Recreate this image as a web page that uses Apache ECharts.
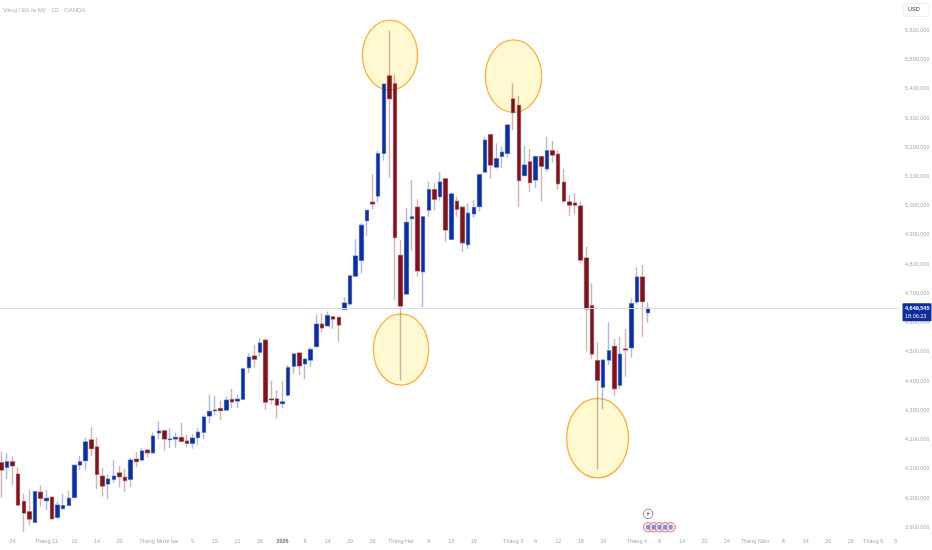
<!DOCTYPE html>
<html><head><meta charset="utf-8">
<style>html,body{margin:0;padding:0;background:#fff}#c{width:932px;height:550px}</style>
<script src="https://cdn.jsdelivr.net/npm/echarts@6/dist/echarts.min.js"></script>
</head><body><div id="c"></div>
<script>
const opens=[4121,4105,4124,4082,3988,3953,3917,4020,3991,4003,3934,3964,3975,4002,4113,4128,4199,4175,4075,4048,4064,4086,4071,4064,4133,4130,4164,4155,4223,4230,4200,4202,4207,4195,4187,4207,4225,4281,4299,4306,4301,4337,4332,4338,4446,4486,4499,4540,4339,4339,4323,4352,4451,4496,4459,4472,4518,4595,4589,4620,4618,4646,4664,4759,4813,4949,5012,5033,5179,5444,5417,4830,4698,4956,4995,4774,4985,5055,5031,5092,4885,5015,4995,4867,4972,4997,5115,5243,5132,5169,5179,5365,5343,5103,5150,5088,5168,5126,5188,5176,5080,5013,5009,4999,4821,4658,4470,4379,4472,4519,4386,4510,4514,4671,4756,4634];
const closes=[4096,4124,4110,3976,3949,3928,4022,3999,3999,3929,3976,3974,3999,4112,4124,4192,4169,4081,4041,4065,4075,4073,4060,4130,4125,4161,4155,4212,4229,4202,4202,4207,4194,4187,4205,4225,4277,4296,4301,4299,4335,4329,4338,4442,4482,4475,4530,4328,4336,4318,4329,4446,4493,4452,4475,4508,4595,4582,4624,4612,4592,4667,4760,4828,4933,4984,5006,5178,5416,5366,4891,4657,4943,4962,4777,4962,5055,5022,5081,4917,5040,4988,4873,4974,4994,5106,5224,5139,5161,5183,5276,5319,5086,5139,5079,5168,5135,5188,5173,5075,5016,5002,5002,4814,4647,4493,4403,4472,4504,4374,4492,4507,4665,4756,4672,4649.545];
const lows=[4002,4065,4043,3973,3885,3907,3916,3971,3959,3928,3928,3964,3973,4000,4096,4096,4142,4031,4005,3996,4051,4037,4020,4039,4105,4130,4140,4153,4203,4162,4170,4172,4192,4172,4169,4181,4202,4256,4284,4267,4299,4307,4307,4338,4429,4446,4484,4301,4322,4273,4307,4347,4424,4421,4406,4449,4518,4567,4589,4578,4534,4646,4658,4757,4769,4897,4988,5012,5154,5096,4678,4402,4695,4846,4757,4653,4962,4985,5017,4877,4884,4962,4841,4852,4959,4980,5115,5091,5127,5130,5166,5259,4995,5103,5048,5061,5014,5116,5147,5054,5008,4965,4972,4805,4501,4476,4099,4304,4455,4349,4374,4415,4480,4661,4552,4600];
const highs=[4159,4153,4142,4105,4016,4028,4024,4044,4028,4005,3988,4016,4024,4113,4145,4208,4242,4208,4104,4081,4130,4110,4100,4138,4157,4170,4167,4224,4263,4230,4239,4224,4257,4216,4219,4239,4284,4353,4349,4333,4347,4373,4353,4447,4495,4524,4547,4547,4401,4370,4401,4455,4493,4496,4478,4516,4629,4632,4638,4622,4620,4687,4762,4885,4940,4985,5108,5187,5416,5599,5450,4883,4991,5088,5022,4963,5082,5077,5116,5092,5045,5031,4996,5008,5020,5106,5234,5243,5214,5202,5276,5419,5376,5204,5194,5171,5168,5236,5221,5190,5126,5036,5042,5014,4859,4735,4533,4472,4601,4544,4552,4578,4683,4789,4797,4670];
const categories=['','','24','','','','','','Tháng 11','','','','','10','','','','14','','','','20','','','','','','','Tháng Mười hai','','','','','','9','','','','15','','','','21','','','','26','','','','2026','','','','8','','','','14','','','','20','','','','26','','','','','Tháng Hai','','','','','9','','','','13','','','','19','','','','','','','Tháng 3','','','','6','','','','12','','','','18','','','','24','','','','','','Tháng 4','','','','8','','','','14','','','','20','','','','24','','','','','Tháng Năm','','','','','8','','','','14','','','','20','','','','26','','','','Tháng 6','','','','5'];
const priceTicks={min:3900,max:5700,step:100};
const lastPrice=4649.545;
const countdown='18:06:23';
const chartTitle='Vàng / Đô la Mỹ · 1D · OANDA';
const currency='USD';
// position along the time scale, price, half width, half height in price units
const ellipses=[[69.6,5515,4.9,120],[71.56,4508,4.92,122],[91.56,5443,5.0,124],[106.5,4205,5.5,136]];
const lightningEvents=[[115,3946]];
const flagEvents=[[115,3900],[116,3900],[117,3900],[118,3900],[119,3900]];

const fmt=v=>Math.round(v*1000).toLocaleString('en-US');
const FONT='"Liberation Sans",Arial,sans-serif';
const UP='#0d2f9b',DOWN='#7c1420';
const wickData=opens.map((o,i)=>[o,closes[i],lows[i],highs[i]]);
const bodyData=opens.map((o,i)=>[o,closes[i],Math.min(o,closes[i]),Math.max(o,closes[i])]);
const chart=echarts.init(document.getElementById('c'),null,{renderer:'canvas'});
chart.setOption({
  animation:false,
  backgroundColor:'#ffffff',
  title:[
    {text:chartTitle,left:3,top:7,textStyle:{fontFamily:FONT,fontSize:6,fontWeight:'normal',color:'#b0b0b0'},padding:0},
    {text:currency,left:903,top:3,padding:[4,10,4,5],backgroundColor:'#fff',borderColor:'#eceef3',borderWidth:1,borderRadius:3,
     textStyle:{fontFamily:FONT,fontSize:5.5,fontWeight:'normal',color:'#4a2a50',lineHeight:5.5}}
  ],
  grid:{left:-1.5,top:1.06,width:900,height:526.24,containLabel:false,outerBoundsMode:'none'},
  xAxis:[
   {type:'category',data:categories,boundaryGap:true,
    axisLine:{show:false},axisTick:{show:false},splitLine:{show:false},
    axisLabel:{interval:0,margin:11,hideOverlap:false,fontFamily:FONT,fontSize:5.5,color:'#a6a9b1',
      formatter:v=>v==='2026'?'{y|2026}':v,rich:{y:{fontFamily:FONT,fontSize:5.5,fontWeight:'bold',color:'#6f6f6f'}}}},
   {type:'value',show:false,min:0,max:categories.length}
  ],
  yAxis:{type:'value',position:'right',min:priceTicks.min,max:priceTicks.max,interval:priceTicks.step,scale:true,
    axisLine:{show:false},axisTick:{show:false},splitLine:{show:false},
    axisLabel:{margin:6.5,showMaxLabel:false,fontFamily:FONT,fontSize:5.5,color:'#a6a9b1',formatter:fmt}},
  series:[
    {type:'custom',name:'Vùng',z:1,data:ellipses,coordinateSystem:'cartesian2d',xAxisIndex:1,
     encode:{x:0,y:1},silent:true,clip:false,
     renderItem:(p,api)=>{const c=api.coord([api.value(0),api.value(1)]);
       const e=api.coord([api.value(0)+api.value(2),api.value(1)+api.value(3)]);
       return {type:'ellipse',shape:{cx:c[0],cy:c[1],rx:Math.abs(e[0]-c[0]),ry:Math.abs(e[1]-c[1])},
         style:{fill:'#fff9d2',stroke:'#ffae3d',lineWidth:1.3}};}},
    {type:'candlestick',name:'Bóng nến',z:2,barWidth:4,data:wickData,silent:true,
     itemStyle:{color:'rgba(0,0,0,0)',color0:'rgba(0,0,0,0)',borderColor:'rgba(13,47,155,0.33)',borderColor0:'rgba(124,20,32,0.33)',borderWidth:1.4}},
    {type:'candlestick',name:'Thân nến',z:3,barWidth:4,data:bodyData,silent:true,
     itemStyle:{color:UP,color0:DOWN,borderColor:UP,borderColor0:DOWN,borderWidth:0.3},
     markLine:{silent:true,symbol:'none',animation:false,
       lineStyle:{color:'#d5dbe8',width:1,type:'solid'},
       label:{show:true,position:'end',distance:4,offset:[0,4],formatter:'{a|'+fmt(lastPrice)+'}\n{b|'+countdown+'}',
         backgroundColor:UP,padding:[1,2,1,2.5],borderRadius:1,
         rich:{a:{fontFamily:FONT,fontSize:5.5,fontWeight:'bold',color:'#fff',lineHeight:8},
               b:{fontFamily:FONT,fontSize:5.5,color:'#e6eaff',lineHeight:8}}},
       data:[{yAxis:lastPrice}]}},
    {type:'scatter',name:'Sự kiện',z:4,clip:false,silent:true,data:flagEvents,symbol:'circle',symbolSize:9.5,
     itemStyle:{color:'#f6dfe3',borderColor:'#df5a6c',borderWidth:1}},
    {type:'scatter',name:'Cờ',z:5,clip:false,silent:true,data:flagEvents,symbol:'roundRect',symbolSize:[4,4.5],
     itemStyle:{color:'#5f86d6'}},
    {type:'scatter',name:'Tia',z:4,clip:false,silent:true,data:lightningEvents,symbol:'circle',symbolSize:9.5,
     itemStyle:{color:'#ffffff',borderColor:'#8a5a86',borderWidth:1}},
    {type:'scatter',name:'Tia2',z:5,clip:false,silent:true,data:lightningEvents,symbol:'path://M6 0L1 7h3l-1 5 6-8H5z',symbolSize:[4,6],
     itemStyle:{color:'#8a5a86'}}
  ]
});
</script></body></html>
